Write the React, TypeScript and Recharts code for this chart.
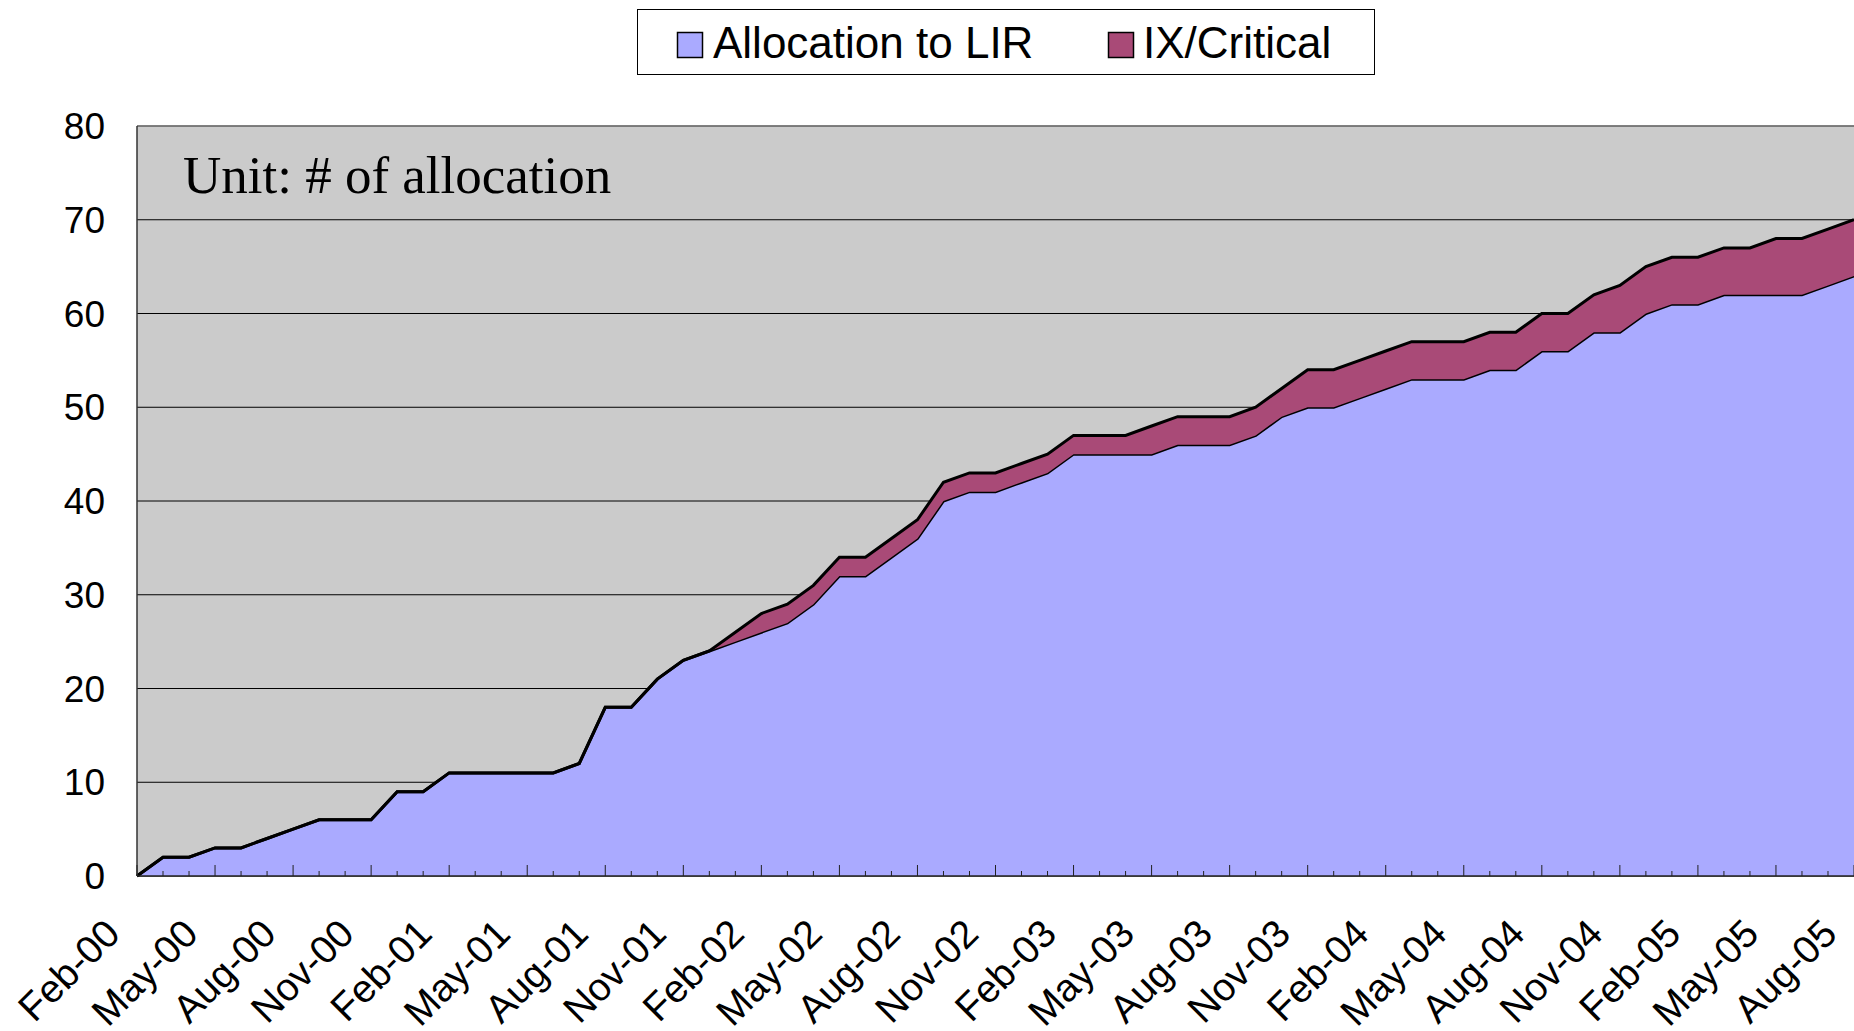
import { Area, AreaChart, CartesianGrid, Legend, ReferenceLine, XAxis, YAxis } from "recharts";

const months = [
  "Feb-00", "Mar-00", "Apr-00", "May-00", "Jun-00", "Jul-00", "Aug-00", "Sep-00", "Oct-00", "Nov-00", "Dec-00",
  "Jan-01", "Feb-01", "Mar-01", "Apr-01", "May-01", "Jun-01", "Jul-01", "Aug-01", "Sep-01", "Oct-01", "Nov-01", "Dec-01",
  "Jan-02", "Feb-02", "Mar-02", "Apr-02", "May-02", "Jun-02", "Jul-02", "Aug-02", "Sep-02", "Oct-02", "Nov-02", "Dec-02",
  "Jan-03", "Feb-03", "Mar-03", "Apr-03", "May-03", "Jun-03", "Jul-03", "Aug-03", "Sep-03", "Oct-03", "Nov-03", "Dec-03",
  "Jan-04", "Feb-04", "Mar-04", "Apr-04", "May-04", "Jun-04", "Jul-04", "Aug-04", "Sep-04", "Oct-04", "Nov-04", "Dec-04",
  "Jan-05", "Feb-05", "Mar-05", "Apr-05", "May-05", "Jun-05", "Jul-05", "Aug-05",
];

const allocationToLIR = [
  0, 2, 2, 3, 3, 4, 5, 6, 6, 6,
  9, 9, 11, 11, 11, 11, 11, 12, 18, 18,
  21, 23, 24, 25, 26, 27, 29, 32, 32, 34,
  36, 40, 41, 41, 42, 43, 45, 45, 45, 45,
  46, 46, 46, 47, 49, 50, 50, 51, 52, 53,
  53, 53, 54, 54, 56, 56, 58, 58, 60, 61,
  61, 62, 62, 62, 62, 63, 64,
];

const ixCritical = [
  0, 0, 0, 0, 0, 0, 0, 0, 0, 0,
  0, 0, 0, 0, 0, 0, 0, 0, 0, 0,
  0, 0, 0, 1, 2, 2, 2, 2, 2, 2,
  2, 2, 2, 2, 2, 2, 2, 2, 2, 3,
  3, 3, 3, 3, 3, 4, 4, 4, 4, 4,
  4, 4, 4, 4, 4, 4, 4, 5, 5, 5,
  5, 5, 5, 6, 6, 6, 6,
];

const yTicks = [0, 10, 20, 30, 40, 50, 60, 70, 80];

const series = [
  { key: "lir", name: "Allocation to LIR", color: "#AAAAFF" },
  { key: "ix", name: "IX/Critical", color: "#A94A77" },
];

const data = months.map((month, i) => ({
  month,
  lir: allocationToLIR[i],
  ix: ixCritical[i],
}));

const SANS = "'Liberation Sans', Arial, sans-serif";

function MonthTick(props: any) {
  const { x, y, payload } = props;
  const idx = payload?.index ?? props.index ?? 0;
  const major = idx % 3 === 0;
  const ax = x - 15;
  const ay = y + 60;
  return (
    <g>
      <line x1={x} x2={x} y1={y} y2={y - (major ? 11 : 5)} stroke="#222" strokeWidth={1} />
      {major && (
        <text
          x={ax}
          y={ay}
          transform={`rotate(-45 ${ax} ${ay})`}
          textAnchor="end"
          fontSize={39}
          fontFamily={SANS}
          fill="#000"
        >
          {payload.value}
        </text>
      )}
    </g>
  );
}

function LegendBox() {
  return (
    <svg width={738} height={66} style={{ display: "block" }}>
      <rect x={0.5} y={0.5} width={737} height={65} fill="#fff" stroke="#000" strokeWidth={1} />
      <rect x={40.5} y={23.5} width={25} height={25} fill={series[0].color} stroke="#000" strokeWidth={1.5} />
      <text x={76} y={49} fontSize={44} fontFamily={SANS} fill="#000">{series[0].name}</text>
      <rect x={471.5} y={23.5} width={25} height={25} fill={series[1].color} stroke="#000" strokeWidth={1.5} />
      <text x={506} y={49} fontSize={44} fontFamily={SANS} fill="#000">{series[1].name}</text>
    </svg>
  );
}

export default function App() {
  return (
    <div style={{ position: "absolute", left: 0, top: 0, width: 1854, height: 1031, background: "#fff" }}>
      <AreaChart width={1854} height={1031} data={data} margin={{ top: 126, right: 0, left: 0, bottom: 0 }}>
        <CartesianGrid fill="#CBCBCB" stroke="#000" strokeWidth={1} vertical={false} />
        <YAxis
          domain={[0, 80]}
          ticks={yTicks}
          width={137}
          tickLine={false}
          tickSize={0}
          tickMargin={32}
          axisLine={{ stroke: "#333", strokeWidth: 1.5 }}
          tick={{ fontSize: 37, fontFamily: SANS, fill: "#000" }}
          interval={0}
        />
        <ReferenceLine y={80} stroke="#808080" strokeWidth={1.5} />
        {series.map((s) => (
          <Area
            key={s.key}
            type="linear"
            dataKey={s.key}
            name={s.name}
            stackId="1"
            fill={s.color}
            fillOpacity={1}
            stroke="#000"
            strokeWidth={3}
            dot={false}
            activeDot={false}
            isAnimationActive={false}
          />
        ))}
        <XAxis
          dataKey="month"
          height={155}
          interval={0}
          tickLine={false}
          tickSize={0}
          tickMargin={0}
          axisLine={{ stroke: "#222", strokeWidth: 1.5 }}
          tick={<MonthTick />}
        />
        <Legend
          layout="horizontal"
          verticalAlign="middle"
          align="center"
          content={<LegendBox />}
          wrapperStyle={{ left: 637, top: 9, width: 738, height: 66 }}
        />
      </AreaChart>
      <svg
        width={1854}
        height={1031}
        style={{ position: "absolute", left: 0, top: 0, pointerEvents: "none" }}
      >
        <text x={183} y={193} fontSize={53} fontFamily="'Liberation Serif', 'Times New Roman', serif" fill="#000">
          Unit: # of allocation
        </text>
      </svg>
    </div>
  );
}
